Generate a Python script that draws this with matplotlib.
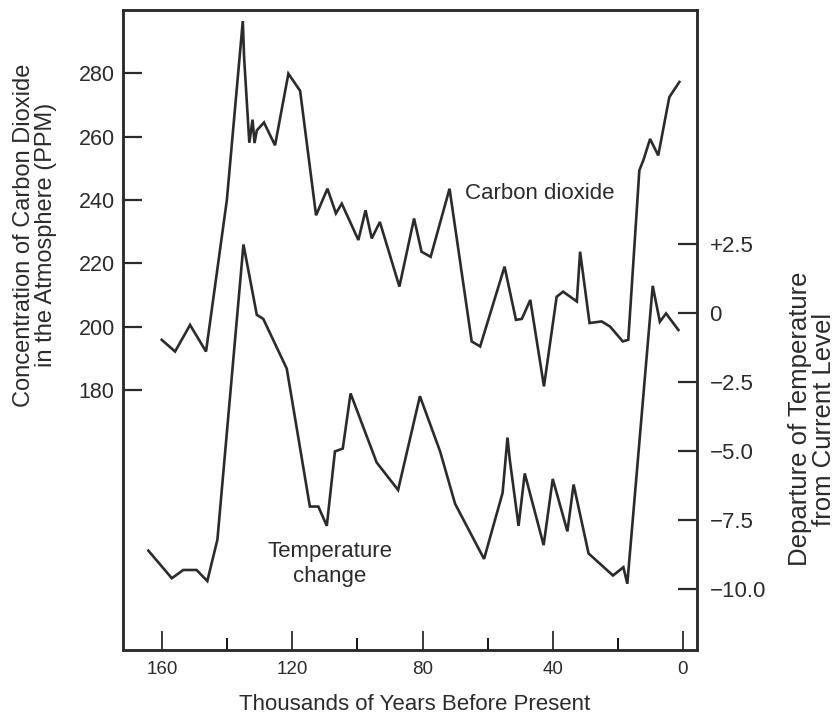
import numpy as np
import matplotlib
matplotlib.use("Agg")
import matplotlib.pyplot as plt
from matplotlib.ticker import FixedLocator

plt.rcParams['font.family'] = ['Liberation Sans', 'DejaVu Sans']

# carbon dioxide record (thousand years BP, ppm)
co2_age = [160.1, 156.0, 151.4, 146.5, 140.1, 135.2, 134.8, 133.2, 132.2, 131.6,
           130.9, 128.7, 125.3, 121.2, 117.6, 112.7, 109.2, 106.6, 104.8, 99.7,
           97.5, 95.6, 93.1, 87.1, 82.6, 80.3, 77.5, 71.7, 64.9, 62.3,
           54.8, 51.3, 49.5, 46.9, 42.7, 38.8, 36.8, 32.6, 31.6, 28.7,
           25.0, 22.4, 18.5, 16.8, 13.4, 12.2, 10.1, 7.6, 4.2, 1.1]
co2_ppm = [195.9, 192.2, 200.6, 192.2, 240.0, 296.5, 285.0, 258.1, 265.4, 258.0,
           262.0, 264.5, 257.3, 279.9, 274.5, 235.2, 243.6, 235.8, 238.9, 227.4,
           236.8, 227.9, 233.1, 212.7, 234.2, 223.7, 222.1, 243.6, 195.4, 193.8,
           219.0, 202.2, 202.5, 208.5, 181.2, 209.5, 211.1, 208.0, 223.7, 201.2,
           201.7, 200.1, 195.4, 195.9, 249.4, 252.5, 259.3, 254.1, 272.5, 277.3]

# temperature departure from present (deg C)
temp_age = [164.2, 157.0, 153.5, 149.4, 146.1, 143.0, 135.0, 130.9, 128.9, 121.7,
            114.6, 112.0, 109.4, 106.9, 104.5, 102.1, 94.1, 87.5, 80.8, 74.6,
            70.0, 61.1, 55.4, 53.9, 53.2, 50.5, 48.6, 42.8, 40.0, 35.5,
            33.6, 29.0, 21.5, 18.3, 17.1, 9.3, 7.1, 5.2, 1.4]
temp_dev = [-8.6, -9.6, -9.3, -9.3, -9.7, -8.2, 2.5, -0.05, -0.2, -2.0,
            -7.0, -7.0, -7.7, -5.0, -4.9, -2.9, -5.4, -6.4, -3.0, -5.0,
            -6.9, -8.9, -6.5, -4.5, -5.3, -7.7, -5.8, -8.4, -6.0, -7.9,
            -6.2, -8.7, -9.5, -9.2, -9.8, 1.0, -0.3, 0.0, -0.6]

x_major = [160, 120, 80, 40, 0]
x_minor = [140, 100, 60, 20]
co2_ticks = [180, 200, 220, 240, 260, 280]
temp_ticks = [2.5, 0, -2.5, -5.0, -7.5, -10.0]
temp_labels = ['+2.5', '0', '\u22122.5', '\u22125.0', '\u22127.5', '\u221210.0']

ink = '#2b2b2b'

fig = plt.figure(figsize=(8.35, 7.21), dpi=100)
ax = fig.add_axes([0.1473, 0.0985, 0.6874, 0.8876])
ax2 = ax.twinx()

ax.plot(co2_age, co2_ppm, color=ink, lw=1.9, solid_joinstyle='miter')
ax2.plot(temp_age, temp_dev, color=ink, lw=1.9, solid_joinstyle='miter')

ax.set_xlim(172, -4.3)
ax.set_ylim(98, 300)
ax2.set_ylim(-12.2, 11.0)

ax.xaxis.set_major_locator(FixedLocator(x_major))
ax.xaxis.set_minor_locator(FixedLocator(x_minor))
ax.set_yticks(co2_ticks)
ax2.set_yticks(temp_ticks)
ax2.set_yticklabels(temp_labels)

for a in (ax, ax2):
    for s in a.spines.values():
        s.set_linewidth(1.8)
        s.set_color(ink)

ax.tick_params(axis='x', which='major', direction='in', length=14, width=1.3,
               labelsize=13.5, colors=ink, pad=8)
ax.tick_params(axis='x', which='minor', direction='in', length=9, width=1.3)
ax.tick_params(axis='y', direction='in', length=14, width=1.6, labelsize=15.5,
               colors=ink, pad=6)
ax2.tick_params(axis='y', direction='in', length=14, width=1.6, labelsize=16,
                colors=ink, pad=9)

# axis titles placed by hand, the side ones sit off-centre
fig.text(415 / 835, 1 - 705 / 721, 'Thousands of Years Before Present',
         fontsize=16, color=ink, ha='center', va='center')
fig.text(35 / 835, 1 - 235 / 721,
         'Concentration of Carbon Dioxide\nin the Atmosphere (PPM)',
         fontsize=17, color=ink, rotation=90, ha='center', va='center',
         multialignment='center', linespacing=1.05)
fig.text(812 / 835, 1 - 419 / 721,
         'Departure of Temperature\nfrom Current Level',
         fontsize=18.5, color=ink, rotation=90, ha='center', va='center',
         multialignment='center', linespacing=1.0)

ax.text(44, 242, 'Carbon dioxide', fontsize=16, color=ink, ha='center',
        va='center')
ax2.text(108.4, -9.07, 'Temperature\nchange', fontsize=16, color=ink,
         ha='center', va='center', linespacing=1.25)

fig.savefig('out.png', dpi=100)
